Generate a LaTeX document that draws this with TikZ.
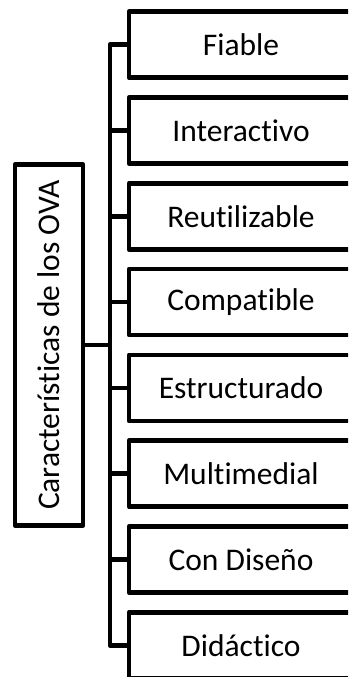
\documentclass[tikz,border=0pt]{standalone}
\usepackage{fontspec}
\setmainfont{Carlito}[Ligatures=CommonOff]
\begin{document}
\begin{tikzpicture}[
        x=1pt, y=1pt,
        line width=4.6pt, line join=round,
        grow'=right,
        level 1/.style={sibling distance=85.8pt, level distance=192pt},
        every node/.style={rectangle, draw, inner sep=0pt, font=\fontsize{31.5}{38}\selectfont},
        caja/.style={minimum width=224pt, minimum height=66pt},
        edge from parent path={(\tikzparentnode.east) -- ++(24.5pt,0) |- (\tikzchildnode.west)}
    ]
        % Marco de la figura
        \clip (0,0) rectangle (348,-677);

        % Árbol principal
        \node [minimum width=68pt, minimum height=361pt] (ova) at (49,-345) {\rotatebox{90}{Características de los OVA}}
            child { node [caja] (fiable) {Fiable} }
            child { node [caja] (interactivo) {Interactivo} }
            child { node [caja] (reutilizable) {Reutilizable} }
            child { node [caja] (compatible) {Compatible} }
            child { node [caja] (estructurado) {Estructurado} }
            child { node [caja] (multimedial) {Multimedial} }
            child { node [caja] (diseno) {Con Diseño} }
            child { node [caja] (didactico) {Didáctico} };
    \end{tikzpicture}
\end{document}
